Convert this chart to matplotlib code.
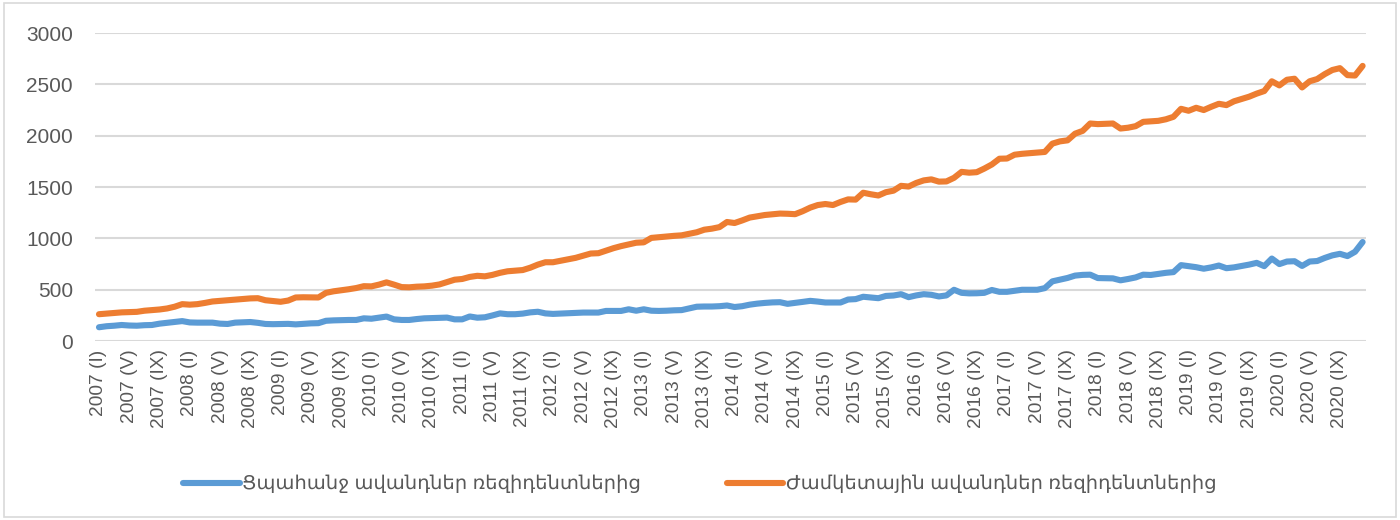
import matplotlib
matplotlib.use("Agg")
import matplotlib.pyplot as plt
from matplotlib.patches import Rectangle

plt.rcParams['font.family'] = ['Liberation Sans', 'DejaVu Sans']

years = list(range(2007, 2021))
months_roman = ["I", "II", "III", "IV", "V", "VI", "VII", "VIII", "IX", "X", "XI", "XII"]
categories = [f"{y} ({m})" for y in years for m in months_roman]

series_names = ["Ցպահանջ ավանդներ ռեզիդենտներից",
                "Ժամկետային ավանդներ ռեզիդենտներից"]

demand = [
    135, 145, 150, 157, 152, 150, 155, 157, 170, 178, 185, 195,   # 2007
    182, 180, 180, 180, 170, 167, 180, 183, 186, 178, 167, 165,   # 2008
    167, 168, 163, 168, 173, 175, 198, 202, 204, 206, 206, 222,   # 2009
    218, 228, 239, 212, 206, 206, 215, 222, 224, 226, 229, 212,   # 2010
    212, 240, 228, 232, 250, 270, 262, 262, 268, 280, 286, 270,   # 2011
    265, 268, 271, 275, 278, 278, 278, 294, 294, 294, 310, 296,   # 2012
    310, 296, 294, 296, 300, 302, 318, 335, 337, 337, 340, 347,   # 2013
    332, 340, 355, 365, 372, 377, 379, 363, 372, 382, 392, 385,   # 2014
    376, 376, 376, 405, 409, 432, 425, 418, 440, 444, 457, 428,   # 2015
    445, 457, 451, 435, 445, 500, 470, 465, 466, 470, 498, 480,   # 2016
    480, 490, 500, 500, 500, 516, 582, 598, 615, 638, 645, 647,   # 2017
    614, 612, 611, 592, 605, 620, 647, 644, 655, 665, 672, 740,   # 2018
    730, 720, 705, 718, 736, 710, 718, 732, 745, 762, 730, 804,   # 2019
    750, 775, 778, 732, 775, 780, 810, 835, 850, 828, 870, 965,   # 2020
]

term = [
    262, 268, 274, 280, 282, 285, 296, 302, 308, 318, 335, 360,   # 2007
    355, 360, 372, 386, 392, 398, 404, 410, 416, 418, 398, 390,   # 2008
    383, 395, 425, 427, 426, 425, 470, 485, 495, 505, 517, 535,   # 2009
    533, 550, 572, 550, 526, 524, 530, 533, 540, 552, 575, 598,   # 2010
    605, 625, 636, 631, 645, 665, 680, 686, 692, 715, 745, 768,   # 2011
    768, 782, 796, 811, 832, 853, 856, 880, 905, 925, 942, 958,   # 2012
    962, 1005, 1012, 1020, 1025, 1030, 1045, 1060, 1085, 1095, 1110, 1160,  # 2013
    1150, 1175, 1203, 1215, 1228, 1235, 1242, 1240, 1236, 1265, 1300, 1325,  # 2014
    1335, 1325, 1355, 1380, 1378, 1445, 1430, 1418, 1450, 1465, 1512, 1505,  # 2015
    1540, 1565, 1575, 1553, 1555, 1590, 1648, 1640, 1645, 1680, 1720, 1776,  # 2016
    1778, 1815, 1824, 1830, 1836, 1842, 1923, 1945, 1955, 2020, 2047, 2119,  # 2017
    2113, 2116, 2119, 2070, 2078, 2093, 2135, 2140, 2145, 2160, 2184, 2262,  # 2018
    2243, 2272, 2250, 2282, 2311, 2298, 2335, 2357, 2380, 2410, 2435, 2530,  # 2019
    2490, 2545, 2555, 2470, 2530, 2552, 2600, 2640, 2658, 2590, 2586, 2680,  # 2020
]

yticks = [0, 500, 1000, 1500, 2000, 2500, 3000]

fig = plt.figure(figsize=(14, 5.2), dpi=100)
ax = fig.add_axes([0.068, 0.344, 0.908, 0.5925])

x = list(range(len(categories)))
ax.plot(x, demand, color="#5B9BD5", lw=4.4, solid_capstyle="round",
        solid_joinstyle="round", label=series_names[0], zorder=3)
ax.plot(x, term, color="#ED7D31", lw=4.4, solid_capstyle="round",
        solid_joinstyle="round", label=series_names[1], zorder=3)

ax.set_xlim(-0.5, len(categories) - 0.5)
ax.set_ylim(0, 3000)
ax.set_yticks(yticks)
ax.set_yticklabels([str(v) for v in yticks])
tick_idx = x[::4]
ax.set_xticks(tick_idx)
ax.set_xticklabels([categories[i] for i in tick_idx], rotation=90)

ax.grid(axis="y", color="#d9d9d9", lw=1.5, zorder=0)
ax.set_axisbelow(True)
for s in ax.spines.values():
    s.set_visible(False)
ax.tick_params(axis="both", length=0, colors="#595959")
ax.tick_params(axis="y", labelsize=15, pad=16)
ax.tick_params(axis="x", labelsize=13.8, pad=6)

leg = fig.legend(loc="center", bbox_to_anchor=(0.5, 0.069), ncol=2,
                 frameon=False, fontsize=14, handlelength=2.9,
                 handletextpad=0.15, columnspacing=4.4)
for t in leg.get_texts():
    t.set_color("#595959")

fig.patches.append(Rectangle((0.003, 0.006), 0.994, 0.988, transform=fig.transFigure,
                             fill=False, edgecolor="#d9d9d9", lw=1.2))

fig.savefig("out.png", dpi=100, facecolor="white")
